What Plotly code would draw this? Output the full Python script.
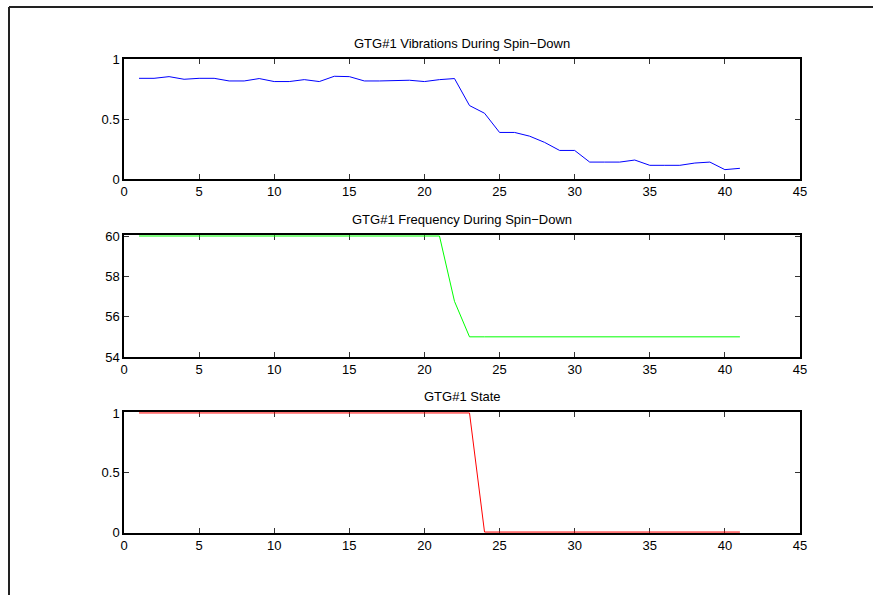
import plotly.graph_objects as go

# Sample index (seconds into the spin-down record)
samples = list(range(1, 42))

# Vibration amplitude per sample
vibration = [
    0.839, 0.839, 0.853, 0.831, 0.839, 0.839, 0.817, 0.817, 0.837, 0.812,
    0.812, 0.828, 0.812, 0.856, 0.853, 0.817, 0.817, 0.820, 0.823, 0.812,
    0.828, 0.837, 0.612, 0.548, 0.388, 0.388, 0.357, 0.305, 0.238, 0.238,
    0.141, 0.141, 0.141, 0.158, 0.114, 0.114, 0.114, 0.133, 0.141, 0.078,
    0.089,
]

# Generator frequency (Hz)
frequency = [60.0] * 21 + [56.76] + [55.0] * 19

# Generator on/off state
state = [1] * 23 + [0] * 18

titles = [
    "GTG#1 Vibrations During Spin\u2212Down",
    "GTG#1 Frequency During Spin\u2212Down",
    "GTG#1 State",
]

x_ticks = [0, 5, 10, 15, 20, 25, 30, 35, 40, 45]

FONT = "Liberation Sans, Arial, Helvetica, sans-serif"

# Plot area: left 124, right 800, top 59, bottom 533 (px)
W, H = 873, 595
L, R, T, B = 124, 800, 59, 533
ph = B - T
pw = R - L


def frac_y(py):
    return (B - py) / ph


domains = [
    (frac_y(179), frac_y(59)),
    (frac_y(357), frac_y(235)),
    (frac_y(533), frac_y(412)),
]

fig = go.Figure()

series = [
    (vibration, "#0000ff"),
    (frequency, "#00ff00"),
    (state, "#ff0000"),
]

for i, (vals, col) in enumerate(series):
    suffix = "" if i == 0 else str(i + 1)
    fig.add_trace(go.Scatter(
        x=samples, y=vals, mode="lines",
        line=dict(color=col, width=1),
        xaxis="x" + suffix, yaxis="y" + suffix,
        showlegend=False, hoverinfo="skip", cliponaxis=False,
    ))

axis_common = dict(
    showgrid=False, zeroline=False,
    showline=True, linecolor="black", linewidth=1.5,
    mirror="allticks", ticks="inside", ticklen=5, tickwidth=1,
    tickcolor="#333333", layer="below traces",
    tickfont=dict(family=FONT, size=13, color="black"),
)

# Ranges carry a hair of headroom so lines sitting on the limits stay visible
y_specs = [
    dict(range=[0, 1], tickvals=[0, 0.5, 1], ticktext=["0", "0.5", "1"]),
    dict(range=[54, 60.05], tickvals=[54, 56, 58, 60]),
    dict(range=[-0.008, 1.008], tickvals=[0, 0.5, 1], ticktext=["0", "0.5", "1"]),
]

layout = dict(
    width=W, height=H,
    margin=dict(l=L, r=W - R, t=T, b=H - B, pad=0),
    paper_bgcolor="white", plot_bgcolor="white",
    showlegend=False,
)

annotations = []
for i in range(3):
    suffix = "" if i == 0 else str(i + 1)
    xa = "xaxis" + suffix
    ya = "yaxis" + suffix
    layout[xa] = dict(
        axis_common, domain=[0, 1], range=[0, 45],
        tickvals=x_ticks, anchor="y" + suffix,
    )
    layout[ya] = dict(
        axis_common, domain=list(domains[i]), anchor="x" + suffix,
        **y_specs[i],
    )
    annotations.append(dict(
        text=titles[i], x=0.5, xref="paper", y=domains[i][1], yref="paper",
        xanchor="center", yanchor="bottom", yshift=6, showarrow=False,
        font=dict(family=FONT, size=13, color="black"),
    ))

layout["annotations"] = annotations

# Figure border (top and left edges of the window frame)
fx = (9 - L) / pw
fy = (B - 7) / ph
layout["shapes"] = [
    dict(type="line", xref="paper", yref="paper", x0=fx, x1=1.3, y0=fy, y1=fy,
         line=dict(color="#222222", width=2)),
    dict(type="line", xref="paper", yref="paper", x0=fx, x1=fx, y0=fy, y1=-0.3,
         line=dict(color="#222222", width=2)),
]

fig.update_layout(**layout)
fig.write_html("out.html")
